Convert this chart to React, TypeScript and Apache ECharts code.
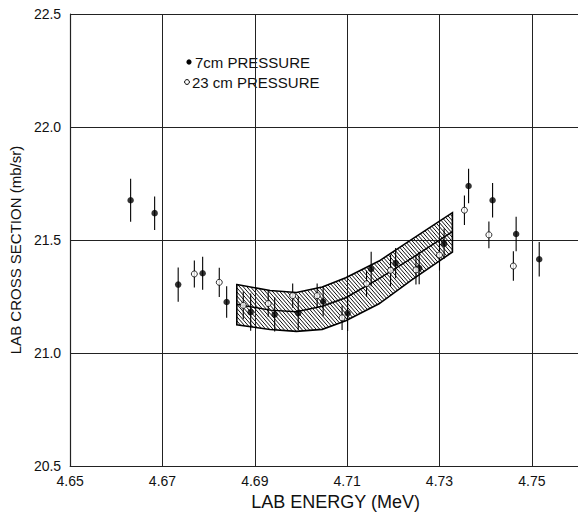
import React, { useEffect, useRef } from "react";
import * as echarts from "echarts";

// Axis ticks
const xTicks = [4.65, 4.67, 4.69, 4.71, 4.73, 4.75];
const yTicks = [20.5, 21.0, 21.5, 22.0, 22.5];

// 7 cm pressure (filled circles)
const energy7 = [4.6631, 4.6683, 4.6734, 4.6787, 4.6839, 4.6891, 4.6943, 4.6994, 4.7048, 4.7101, 4.7152, 4.7205, 4.7256, 4.731, 4.7363, 4.7415, 4.7466, 4.7516];
const sigma7 = [21.676, 21.619, 21.303, 21.353, 21.226, 21.181, 21.171, 21.177, 21.228, 21.176, 21.372, 21.398, 21.376, 21.484, 21.739, 21.676, 21.527, 21.415];
const err7 = [0.095, 0.074, 0.076, 0.073, 0.07, 0.082, 0.076, 0.074, 0.065, 0.078, 0.076, 0.067, 0.072, 0.067, 0.076, 0.076, 0.076, 0.076];

// 23 cm pressure (open circles)
const energy23 = [4.6769, 4.6823, 4.6875, 4.6929, 4.6982, 4.7035, 4.7089, 4.7142, 4.7194, 4.7249, 4.73, 4.7354, 4.7407, 4.746];
const sigma23 = [21.35, 21.313, 21.211, 21.219, 21.254, 21.254, 21.156, 21.307, 21.366, 21.368, 21.434, 21.632, 21.523, 21.385];
const err23 = [0.06, 0.065, 0.061, 0.058, 0.054, 0.054, 0.054, 0.058, 0.069, 0.065, 0.069, 0.065, 0.059, 0.065];

// Hatched band (fit with uncertainty)
const bandEnergy = [4.6861, 4.6933, 4.699, 4.7046, 4.7097, 4.7169, 4.724, 4.7328];
const bandCenter = [21.216, 21.19, 21.183, 21.207, 21.245, 21.329, 21.42, 21.537];
const bandUpper = [21.303, 21.277, 21.268, 21.292, 21.333, 21.407, 21.503, 21.621];
const bandLower = [21.125, 21.104, 21.096, 21.105, 21.143, 21.218, 21.324, 21.447];

const FONT = "Liberation Sans";
const X_MIN = 4.65;
const X_MAX = 4.76;
const X_STEP = 0.02;

function interp(xs: number[], ys: number[], x: number): number {
  if (x <= xs[0]) return ys[0];
  for (let i = 1; i < xs.length; i++) {
    if (x <= xs[i]) {
      const t = (x - xs[i - 1]) / (xs[i] - xs[i - 1]);
      return ys[i - 1] + t * (ys[i] - ys[i - 1]);
    }
  }
  return ys[ys.length - 1];
}

export default function App() {
  const ref = useRef<HTMLDivElement>(null);

  useEffect(() => {
    if (!ref.current) return;
    const chart = echarts.init(ref.current, undefined, { renderer: "svg" });

    const bandRender = (params: any, api: any) => {
      const up = bandEnergy.map((e, i) => api.coord([e, bandUpper[i]]));
      const lo = bandEnergy.map((e, i) => api.coord([e, bandLower[i]]));
      const ce = bandEnergy.map((e, i) => api.coord([e, bandCenter[i]]));
      const ux = up.map((p: number[]) => p[0]);
      const uy = up.map((p: number[]) => p[1]);
      const lx = lo.map((p: number[]) => p[0]);
      const ly = lo.map((p: number[]) => p[1]);
      const x0 = Math.max(ux[0], lx[0]);
      const x1 = Math.min(ux[ux.length - 1], lx[lx.length - 1]);
      const k = 1.15;
      const spacing = 3.6;
      const yMin = Math.min(...uy);
      const yMax = Math.max(...ly);
      const children: any[] = [];
      const cStart = yMin - k * x1;
      const cEnd = yMax - k * x0;
      for (let c = cStart; c <= cEnd; c += spacing * k) {
        let first: number | null = null;
        let last: number | null = null;
        for (let x = x0; x <= x1; x += 0.25) {
          const y = k * x + c;
          const u = interp(ux, uy, x);
          const l = interp(lx, ly, x);
          if (y >= u && y <= l) {
            if (first === null) first = x;
            last = x;
          }
        }
        if (first !== null && last !== null && last > first) {
          children.push({
            type: "line",
            shape: { x1: first, y1: k * first + c, x2: last, y2: k * last + c },
            style: { stroke: "#111", lineWidth: 1 },
            silent: true,
          });
        }
      }
      const outline = [...up, ...lo.slice().reverse()];
      children.push({
        type: "polygon",
        shape: { points: outline },
        style: { fill: "none", stroke: "#000", lineWidth: 1.6 },
        silent: true,
      });
      children.push({
        type: "polyline",
        shape: { points: ce },
        style: { fill: "none", stroke: "#000", lineWidth: 1.5 },
        silent: true,
      });
      return { type: "group", children };
    };

    const errRender = (params: any, api: any) => {
      const x = api.value(0);
      const y = api.value(1);
      const e = api.value(2);
      const a = api.coord([x, y + e]);
      const b = api.coord([x, y - e]);
      return {
        type: "line",
        shape: { x1: a[0], y1: a[1], x2: b[0], y2: b[1] },
        style: { stroke: "#000", lineWidth: 1.1 },
      };
    };

    const isTick = (v: number) => xTicks.some((t) => Math.abs(t - v) < 1e-6);

    chart.setOption({
      animation: false,
      backgroundColor: "#ffffff",
      grid: { left: 69, top: 14, right: -2, bottom: 41, containLabel: false },
      xAxis: {
        type: "value",
        min: X_MIN,
        max: X_MAX,
        interval: X_STEP,
        name: "LAB ENERGY (MeV)",
        nameLocation: "middle",
        nameGap: 20,
        nameTextStyle: { fontFamily: FONT, fontSize: 18, color: "#111", padding: [0, 0, 0, 23] },
        axisLine: { show: true, lineStyle: { color: "#222", width: 1.2 } },
        axisTick: { show: false },
        splitLine: { show: true, lineStyle: { color: "#222", width: 1 } },
        axisLabel: {
          showMaxLabel: false,
          margin: 8,
          fontFamily: FONT,
          fontSize: 14,
          color: "#111",
          formatter: (v: number) => (isTick(v) ? v.toFixed(2) : ""),
        },
      },
      yAxis: {
        type: "value",
        min: yTicks[0],
        max: yTicks[yTicks.length - 1],
        interval: 0.5,
        name: "LAB CROSS SECTION (mb/sr)",
        nameLocation: "middle",
        nameGap: 44,
        nameTextStyle: { fontFamily: FONT, fontSize: 15, color: "#111", padding: [0, 20, 0, 0] },
        axisLine: { show: true, lineStyle: { color: "#222", width: 1.2 } },
        axisTick: { show: false },
        splitLine: { show: true, lineStyle: { color: "#222", width: 1 } },
        axisLabel: {
          margin: 9,
          fontFamily: FONT,
          fontSize: 14,
          color: "#111",
          formatter: (v: number) => v.toFixed(1),
        },
      },
      graphic: [
        { type: "circle", shape: { cx: 189, cy: 62, r: 2.6 }, style: { fill: "#000" } },
        {
          type: "text",
          x: 195,
          y: 62,
          style: { text: "7cm PRESSURE", fontFamily: FONT, fontSize: 15, fill: "#111", verticalAlign: "middle" },
        },
        { type: "circle", shape: { cx: 187, cy: 82, r: 2.4 }, style: { fill: "#fff", stroke: "#000", lineWidth: 1 } },
        {
          type: "text",
          x: 192,
          y: 82,
          style: { text: "23 cm PRESSURE", fontFamily: FONT, fontSize: 15, fill: "#111", verticalAlign: "middle" },
        },
      ],
      series: [
        {
          type: "custom",
          name: "band",
          renderItem: bandRender,
          data: [[bandEnergy[0], bandCenter[0]]],
          z: 1,
          silent: true,
        },
        {
          type: "custom",
          name: "err7",
          renderItem: errRender,
          data: energy7.map((e, i) => [e, sigma7[i], err7[i]]),
          encode: { x: 0, y: 1 },
          z: 3,
        },
        {
          type: "custom",
          name: "err23",
          renderItem: errRender,
          data: energy23.map((e, i) => [e, sigma23[i], err23[i]]),
          encode: { x: 0, y: 1 },
          z: 3,
        },
        {
          type: "scatter",
          name: "7cm PRESSURE",
          data: energy7.map((e, i) => [e, sigma7[i]]),
          symbol: "circle",
          symbolSize: 6.5,
          itemStyle: { color: "#000" },
          z: 4,
        },
        {
          type: "scatter",
          name: "23 cm PRESSURE",
          data: energy23.map((e, i) => [e, sigma23[i]]),
          symbol: "circle",
          symbolSize: 6,
          itemStyle: { color: "#fff", borderColor: "#000", borderWidth: 1 },
          z: 4,
        },
      ],
    });

    return () => chart.dispose();
  }, []);

  return (
    <div
      ref={ref}
      style={{ position: "fixed", left: 0, top: 0, width: 578, height: 516, background: "#fff" }}
    />
  );
}
